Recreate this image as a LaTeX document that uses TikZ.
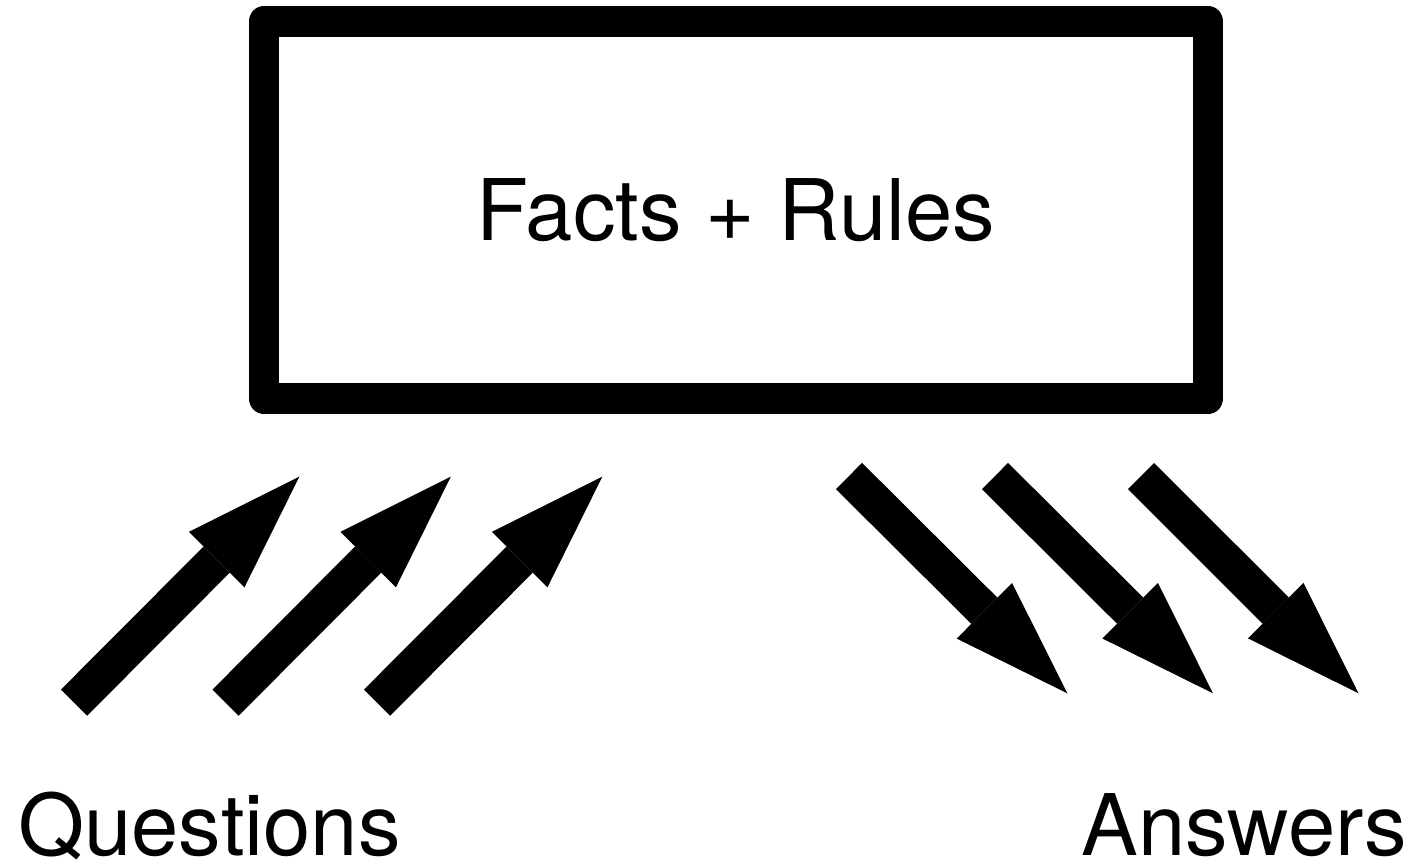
\documentclass[tikz,border=0pt]{standalone}
\usepackage{fontspec}
\setmainfont{TeX Gyre Heros}
\usetikzlibrary{arrows.meta}

\tikzset{
    bigarrow/.style={line width=37pt, -{Triangle[length=117pt,width=78.5pt,line width=0pt]}},
    bigtext/.style={font=\fontsize{85pt}{100pt}\selectfont, inner sep=0pt}
}

\begin{document}
\begin{tikzpicture}[x=1pt,y=-1pt]
    \useasboundingbox (0,0) rectangle (1407,862);
    % Draw knowledge box
    \node[draw, line width=30.5pt, line join=round, minimum width=944pt, minimum height=377pt, bigtext] (kb) at (736,210) {Facts + Rules};

    % Arrow end points
    \coordinate (q1s) at (74,702.7);   \coordinate (q1e) at (299.3,476.7);
    \coordinate (q2s) at (225.5,702.7); \coordinate (q2e) at (450.8,476.7);
    \coordinate (q3s) at (377,702.7);  \coordinate (q3e) at (602.3,476.7);
    \coordinate (a1s) at (849,476);    \coordinate (a1e) at (1067.3,693.3);
    \coordinate (a2s) at (995,476);    \coordinate (a2e) at (1213,693.3);
    \coordinate (a3s) at (1141,476);   \coordinate (a3e) at (1358.5,693.3);

    % Draw question arrows
    \draw[bigarrow] (q1s) -- (q1e);
    \draw[bigarrow] (q2s) -- (q2e);
    \draw[bigarrow] (q3s) -- (q3e);
    % Draw answer arrows
    \draw[bigarrow] (a1s) -- (a1e);
    \draw[bigarrow] (a2s) -- (a2e);
    \draw[bigarrow] (a3s) -- (a3e);

    % Label values
    \node[bigtext, anchor=base west] (questions) at (18,855) {Questions};
    \node[bigtext, anchor=base east] (answers) at (1407,855) {Answers};
\end{tikzpicture}
\end{document}
